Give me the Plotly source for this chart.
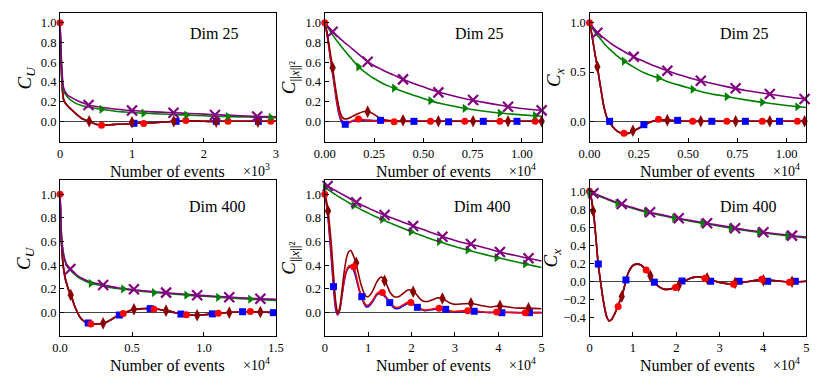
import plotly.graph_objects as go
from plotly.subplots import make_subplots

# --- panel 1: C_U, Dim 25 ---
A_X = [0, 50, 100, 200, 300, 400, 500, 600, 700, 800, 900, 1000, 1100, 1200,
       1400, 1600, 1800, 2000, 2200, 2400, 2600, 2800, 3000]
A_PURPLE = [1.0, 0.34, 0.27, 0.225, 0.19, 0.165, 0.15, 0.14, 0.13, 0.122, 0.115, 0.11,
            0.105, 0.10, 0.093, 0.087, 0.08, 0.073, 0.066, 0.06, 0.053, 0.048, 0.045]
A_GREEN = [1.0, 0.31, 0.25, 0.19, 0.16, 0.145, 0.13, 0.12, 0.11, 0.10, 0.095, 0.09,
           0.085, 0.082, 0.075, 0.068, 0.062, 0.056, 0.05, 0.047, 0.044, 0.041, 0.038]
A_FAST = [1.0, 0.22, 0.16, 0.09, 0.03, 0.0, -0.03, -0.04, -0.035, -0.03, -0.03, -0.02,
          -0.02, -0.02, -0.01, 0.0, 0.005, 0.0, 0.0, 0.0, 0.0, 0.0, 0.0]
A_PURPLE_MX = [396, 1000, 1577, 2153, 2739]
A_PURPLE_MY = [0.165, 0.11, 0.087, 0.064, 0.049]
A_GREEN_MX = [577, 1162, 1757, 2334, 2928]
A_GREEN_MY = [0.122, 0.083, 0.063, 0.048, 0.039]
A_DARKRED_MX = [405, 1000, 1580, 2170, 2750]
A_DARKRED_MY = [0.0, -0.01, 0.0, -0.003, -0.003]
A_RED_MX = [0, 577, 1162, 1748, 2334, 2928]
A_RED_MY = [1.0, -0.04, -0.022, 0.008, 0.0, 0.0]
A_BLUE_MX = [1027, 1613, 2171, 2757]
A_BLUE_MY = [-0.02, 0.0, 0.0, 0.0]

# --- panels 2 and 3: C_||x||^2 and C_x, Dim 25 ---
B_X = [0, 100, 200, 300, 400, 500, 600, 700, 800, 900, 1000, 1200, 1400, 1700, 2000,
       2200, 2500, 2800, 3200, 3600, 4000, 4500, 5000, 5500, 6000, 7000, 8000, 9000,
       10000, 11000]
B_PURPLE = [1.0, 0.98, 0.955, 0.935, 0.91, 0.89, 0.87, 0.855, 0.835, 0.82, 0.80, 0.77,
            0.735, 0.685, 0.635, 0.60, 0.565, 0.535, 0.495, 0.46, 0.425, 0.385, 0.35,
            0.315, 0.285, 0.235, 0.195, 0.16, 0.13, 0.11]
B_GREEN = [1.0, 0.97, 0.94, 0.91, 0.875, 0.85, 0.82, 0.795, 0.77, 0.745, 0.72, 0.67,
           0.625, 0.555, 0.505, 0.475, 0.435, 0.40, 0.36, 0.33, 0.30, 0.265, 0.232,
           0.20, 0.175, 0.135, 0.105, 0.082, 0.065, 0.052]
B_DARKRED = [1.0, 0.92, 0.80, 0.67, 0.544, 0.40, 0.27, 0.16, 0.08, 0.04, 0.025, 0.03,
             0.05, 0.08, 0.10, 0.10, 0.07, 0.03, 0.01, 0.003, 0.0, 0.0, 0.0, 0.0, 0.0,
             0.0, 0.0, 0.0, 0.0, 0.0]
B_RED = [1.0, 0.90, 0.77, 0.63, 0.50, 0.36, 0.22, 0.11, 0.04, 0.0, -0.02, -0.015, 0.005,
         0.022, 0.015, 0.01, 0.005, 0.0, 0.0, 0.0, 0.0, 0.0, 0.0, 0.0, 0.0, 0.0, 0.0,
         0.0, 0.0, 0.0]
B_BLUE = [1.0, 0.90, 0.77, 0.62, 0.48, 0.34, 0.20, 0.09, 0.02, -0.02, -0.03, -0.02, 0.0,
          0.01, 0.01, 0.01, 0.008, 0.01, 0.003, 0.0, 0.0, 0.0, 0.0, 0.0, 0.0, 0.0, 0.0,
          0.0, 0.0, 0.0]
B_PURPLE_MX = [400, 2176, 3970, 5763, 7522, 9296, 11000]
B_PURPLE_MY = [0.91, 0.605, 0.426, 0.294, 0.216, 0.148, 0.111]
B_GREEN_MX = [1709, 3518, 5361, 7101, 8878, 10670]
B_GREEN_MY = [0.554, 0.338, 0.209, 0.132, 0.084, 0.057]
B_DARKRED_MX = [400, 2176, 3970, 5763, 7522, 9296, 11000]
B_DARKRED_MY = [0.544, 0.098, 0.01, 0.0, 0.0, 0.0, 0.0]
B_RED_MX = [0, 1709, 3518, 5361, 7101, 8878, 10670]
B_RED_MY = [1.0, 0.023, -0.005, 0.0, 0.0, 0.0, 0.0]
B_BLUE_MX = [1039, 2829, 4523, 6281, 8040, 9749]
B_BLUE_MY = [-0.03, 0.01, 0.0, -0.005, 0.0, 0.0]

C_PURPLE = [1.0, 0.975, 0.95, 0.925, 0.90, 0.885, 0.865, 0.85, 0.835, 0.82, 0.805, 0.775,
            0.75, 0.715, 0.68, 0.66, 0.63, 0.605, 0.57, 0.54, 0.51, 0.475, 0.445, 0.418,
            0.395, 0.35, 0.31, 0.28, 0.25, 0.225]
C_GREEN = [1.0, 0.96, 0.93, 0.90, 0.87, 0.85, 0.825, 0.80, 0.775, 0.755, 0.735, 0.70,
           0.665, 0.62, 0.58, 0.555, 0.52, 0.49, 0.46, 0.433, 0.40, 0.37, 0.34, 0.31,
           0.285, 0.25, 0.215, 0.186, 0.16, 0.14]
C_FAST = [1.0, 0.90, 0.78, 0.66, 0.554, 0.42, 0.30, 0.18, 0.09, 0.03, -0.005, -0.06,
          -0.10, -0.125, -0.12, -0.10, -0.07, -0.035, 0.0, 0.015, 0.01, 0.005, 0.0, 0.0,
          0.0, 0.0, 0.0, 0.0, 0.0, 0.0]
C_PURPLE_MX = [400, 2243, 3946, 5644, 7411, 9144, 10907]
C_PURPLE_MY = [0.90, 0.655, 0.513, 0.412, 0.335, 0.277, 0.226]
C_GREEN_MX = [1749, 3500, 5232, 6965, 8762, 10545]
C_GREEN_MY = [0.611, 0.44, 0.325, 0.25, 0.193, 0.148]
C_DARKRED_MX = [396, 2200, 3946, 5644, 7411, 9144, 10907]
C_DARKRED_MY = [0.554, -0.095, 0.012, 0.0, 0.0, 0.0, 0.0]
C_RED_MX = [0, 1749, 3500, 5232, 6965, 8762, 10545]
C_RED_MY = [1.0, -0.122, 0.02, 0.0, 0.0, 0.0, 0.0]
C_BLUE_MX = [1020, 2757, 4470, 6203, 7906, 9637]
C_BLUE_MY = [0.0, -0.034, 0.01, 0.0, 0.0, 0.0]

# --- panel 4: C_U, Dim 400 ---
D_X = [0, 50, 100, 200, 300, 400, 500, 600, 700, 800, 1000, 1200, 1400, 1700, 2000,
       2400, 2800, 3200, 3600, 4000, 4500, 5000, 5500, 6000, 6500, 7000, 7500, 8000,
       8500, 9000, 9500, 10000, 11000, 12000, 13000, 14000, 15000]
D_PURPLE = [1.0, 0.80, 0.66, 0.53, 0.465, 0.425, 0.40, 0.383, 0.37, 0.358, 0.335, 0.315,
            0.298, 0.28, 0.264, 0.25, 0.24, 0.229, 0.219, 0.21, 0.202, 0.195, 0.188,
            0.182, 0.177, 0.172, 0.167, 0.162, 0.158, 0.153, 0.148, 0.144, 0.137, 0.13,
            0.123, 0.117, 0.112]
D_GREEN = [1.0, 0.79, 0.65, 0.52, 0.455, 0.415, 0.39, 0.373, 0.36, 0.348, 0.325, 0.305,
           0.288, 0.27, 0.254, 0.24, 0.23, 0.22, 0.211, 0.204, 0.197, 0.19, 0.183, 0.177,
           0.171, 0.166, 0.161, 0.156, 0.151, 0.146, 0.142, 0.138, 0.13, 0.122, 0.115,
           0.109, 0.104]
D_FAST = [1.0, 0.78, 0.60, 0.42, 0.33, 0.27, 0.23, 0.19, 0.16, 0.135, 0.06, 0.005,
          -0.04, -0.075, -0.09, -0.097, -0.093, -0.08, -0.055, -0.025, 0.0, 0.022, 0.032,
          0.035, 0.033, 0.025, 0.015, 0.0, -0.012, -0.02, -0.022, -0.018, -0.005, 0.003,
          0.008, 0.005, 0.0]
D_PURPLE_MX = [720, 2995, 5135, 7365, 9527, 11757, 13919]
D_PURPLE_MY = [0.369, 0.234, 0.197, 0.169, 0.147, 0.13, 0.118]
D_GREEN_MX = [2140, 4392, 6532, 8784, 10991, 13221]
D_GREEN_MY = [0.247, 0.2, 0.17, 0.148, 0.13, 0.114]
D_DARKRED_MX = [743, 2995, 5135, 7365, 9527, 11757, 13919]
D_DARKRED_MY = [0.149, -0.09, 0.028, 0.017, -0.022, 0.0, 0.005]
D_RED_MX = [0, 2140, 4392, 6532, 8784, 10991, 13221]
D_RED_MY = [1.0, -0.095, -0.008, 0.029, -0.017, -0.005, 0.009]
D_BLUE_MX = [1959, 4122, 6261, 8401, 10586, 12680, 14820]
D_BLUE_MY = [-0.087, -0.02, 0.034, -0.012, -0.01, 0.008, 0.0]

# --- panels 5 and 6: C_||x||^2 and C_x, Dim 400 ---
E_X = [0, 250, 500, 750, 1000, 1500, 2000, 2500, 3000, 3500, 4000, 4500, 5000, 5500,
       6000, 6500, 7000, 7500, 8000, 8500, 9000, 9500, 10000, 11000, 12000, 13000,
       14000, 15000, 16000, 17000, 18000, 19000, 20000, 21000, 22000, 23000, 24000,
       25000, 26000, 27000, 28000, 29000, 30000, 32000, 34000, 36000, 38000, 40000,
       42000, 44000, 46000, 48000, 50000]
E_PURPLE = [1.082, 1.077, 1.073, 1.068, 1.062, 1.052, 1.041, 1.031, 1.02, 1.01, 1.0,
            0.99, 0.98, 0.97, 0.958, 0.948, 0.938, 0.928, 0.919, 0.91, 0.90, 0.892,
            0.883, 0.866, 0.85, 0.835, 0.82, 0.806, 0.792, 0.778, 0.764, 0.75, 0.737,
            0.724, 0.71, 0.697, 0.684, 0.671, 0.658, 0.645, 0.633, 0.621, 0.61, 0.59,
            0.574, 0.556, 0.537, 0.516, 0.498, 0.482, 0.466, 0.451, 0.436]
E_GREEN = [1.055, 1.05, 1.044, 1.038, 1.032, 1.02, 1.008, 0.996, 0.984, 0.973, 0.962,
           0.951, 0.94, 0.929, 0.918, 0.908, 0.898, 0.888, 0.878, 0.868, 0.859, 0.85,
           0.841, 0.823, 0.806, 0.79, 0.774, 0.758, 0.743, 0.728, 0.713, 0.698, 0.683,
           0.669, 0.655, 0.642, 0.629, 0.616, 0.604, 0.592, 0.58, 0.569, 0.558, 0.537,
           0.518, 0.499, 0.481, 0.463, 0.446, 0.43, 0.413, 0.397, 0.382]
E_DARKRED = [1.0, 0.97, 0.92, 0.858, 0.78, 0.58, 0.33, 0.10, -0.005, 0.05, 0.2, 0.35,
             0.46, 0.515, 0.525, 0.49, 0.44, 0.37, 0.29, 0.22, 0.17, 0.14, 0.135, 0.18,
             0.26, 0.30, 0.26, 0.175, 0.135, 0.135, 0.16, 0.19, 0.19, 0.16, 0.115, 0.095,
             0.097, 0.112, 0.125, 0.122, 0.1, 0.08, 0.07, 0.075, 0.078, 0.06, 0.048,
             0.057, 0.05, 0.04, 0.038, 0.036, 0.033]
E_RED = [1.0, 0.96, 0.9, 0.82, 0.72, 0.50, 0.26, 0.06, -0.015, 0.04, 0.16, 0.28, 0.355,
         0.39, 0.397, 0.39, 0.35, 0.27, 0.19, 0.14, 0.09, 0.065, 0.062, 0.1, 0.16, 0.175,
         0.14, 0.09, 0.05, 0.045, 0.065, 0.085, 0.083, 0.06, 0.035, 0.022, 0.025, 0.033,
         0.038, 0.033, 0.022, 0.013, 0.01, 0.015, 0.015, 0.008, 0.003, 0.005, 0.004,
         0.001, 0.0, 0.0, 0.0]
E_BLUE = [1.0, 0.95, 0.88, 0.80, 0.69, 0.46, 0.22, 0.03, -0.02, 0.03, 0.15, 0.27, 0.345,
          0.38, 0.385, 0.37, 0.32, 0.25, 0.18, 0.135, 0.08, 0.05, 0.05, 0.09, 0.15, 0.165,
          0.13, 0.085, 0.04, 0.035, 0.055, 0.075, 0.075, 0.055, 0.03, 0.017, 0.02, 0.028,
          0.032, 0.03, 0.025, 0.012, 0.006, 0.01, 0.012, 0.005, 0.0, 0.002, 0.002, 0.0,
          0.0, 0.0, 0.0]
E_PURPLE_MX = [660, 7260, 13780, 20380, 27120, 33700, 40380, 46970]
E_PURPLE_MY = [1.07, 0.932, 0.824, 0.732, 0.641, 0.58, 0.512, 0.459]
E_GREEN_MX = [70, 6670, 13260, 19850, 26370, 32960, 39620, 46220]
E_GREEN_MY = [1.054, 0.905, 0.788, 0.684, 0.60, 0.529, 0.464, 0.411]
E_DARKRED_MX = [750, 7260, 13780, 20380, 27120, 33700, 40380, 46970]
E_DARKRED_MY = [0.858, 0.422, 0.27, 0.177, 0.12, 0.079, 0.057, 0.037]
E_RED_MX = [0, 6670, 13260, 19850, 26370, 32960, 39620, 46220]
E_RED_MY = [1.0, 0.388, 0.17, 0.085, 0.037, 0.017, 0.005, 0.0]
E_BLUE_MX = [2020, 8540, 14980, 21350, 27870, 34450, 40820, 47190]
E_BLUE_MY = [0.22, 0.135, 0.085, 0.045, 0.028, 0.012, 0.0, 0.0]

F_PURPLE = [0.995, 0.99, 0.986, 0.982, 0.977, 0.968, 0.958, 0.948, 0.938, 0.929, 0.919,
            0.909, 0.899, 0.89, 0.881, 0.872, 0.864, 0.856, 0.848, 0.84, 0.832, 0.825,
            0.818, 0.803, 0.789, 0.777, 0.765, 0.755, 0.745, 0.735, 0.724, 0.714, 0.705,
            0.696, 0.687, 0.678, 0.669, 0.661, 0.653, 0.645, 0.637, 0.629, 0.621, 0.604,
            0.587, 0.572, 0.558, 0.545, 0.533, 0.522, 0.511, 0.5, 0.49]
F_GREEN = [0.987, 0.982, 0.978, 0.974, 0.969, 0.96, 0.95, 0.94, 0.93, 0.921, 0.911, 0.901,
           0.891, 0.882, 0.873, 0.864, 0.856, 0.848, 0.84, 0.832, 0.824, 0.817, 0.81,
           0.795, 0.781, 0.769, 0.757, 0.747, 0.737, 0.727, 0.716, 0.706, 0.697, 0.688,
           0.679, 0.67, 0.661, 0.653, 0.645, 0.637, 0.629, 0.621, 0.613, 0.596, 0.579,
           0.564, 0.55, 0.537, 0.525, 0.514, 0.503, 0.492, 0.482]
F_FAST = [1.0, 0.96, 0.90, 0.81, 0.73, 0.47, 0.19, 0.01, -0.16, -0.30, -0.40, -0.44,
          -0.43, -0.39, -0.34, -0.28, -0.22, -0.16, -0.07, 0.03, 0.10, 0.145, 0.175, 0.19,
          0.175, 0.125, 0.06, -0.01, -0.06, -0.085, -0.09, -0.08, -0.06, -0.02, 0.005,
          0.028, 0.043, 0.05, 0.045, 0.033, 0.015, 0.0, -0.012, -0.028, -0.022, -0.008,
          0.008, 0.018, 0.012, 0.0, -0.008, -0.005, 0.0]
F_PURPLE_MX = [900, 7430, 13960, 20560, 27100, 33560, 40090, 46690]
F_PURPLE_MY = [0.978, 0.859, 0.766, 0.70, 0.644, 0.589, 0.544, 0.507]
F_GREEN_MX = [0, 6470, 13000, 19530, 26060, 32590, 39120, 45650]
F_GREEN_MY = [0.987, 0.864, 0.769, 0.702, 0.645, 0.591, 0.543, 0.505]
F_DARKRED_MX = [830, 7430, 14030, 20560, 27100, 33560, 40090, 46690]
F_DARKRED_MY = [0.781, -0.17, 0.06, -0.05, 0.033, -0.02, 0.01, -0.005]
F_RED_MX = [0, 6600, 13060, 19820, 26580, 33180, 39710, 46100]
F_RED_MY = [1.0, -0.28, 0.125, -0.07, 0.033, -0.033, 0.022, -0.01]
F_BLUE_MX = [2030, 8400, 14940, 21320, 27930, 34460, 41060, 47450]
F_BLUE_MY = [0.192, 0.015, -0.01, 0.003, 0.0, 0.0, 0.0, 0.0]

# --- axes / labels ---
X_TICKS_A = [0, 1000, 2000, 3000]
X_TEXT_A = ["0", "1", "2", "3"]
X_TICKS_B = [0, 2500, 5000, 7500, 10000]
X_TEXT_B = ["0.00", "0.25", "0.50", "0.75", "1.00"]
X_TICKS_D = [0, 5000, 10000, 15000]
X_TEXT_D = ["0.0", "0.5", "1.0", "1.5"]
X_TICKS_E = [0, 10000, 20000, 30000, 40000, 50000]
X_TEXT_E = ["0", "1", "2", "3", "4", "5"]
Y_TICKS = [0.0, 0.2, 0.4, 0.6, 0.8, 1.0]
Y_TICKS_C = [0.0, 0.5, 1.0]
Y_TICKS_F = [-0.4, -0.2, 0.0, 0.2, 0.4, 0.6, 0.8, 1.0]

PURPLE = "#800080"
GREEN = "#008000"
DARKRED = "#8b0000"
RED = "#ff0000"
BLUE = "#0000ff"
FONT = "Liberation Serif"

C_U = "<i>C</i><sub><i>U</i></sub>"
C_X2 = "<i>C</i><sub>||<i>x</i>||²</sub>"
C_XX = "<i>C</i><sub><i>x</i></sub>"

panels = [
    dict(x=A_X, blue=A_FAST, red=A_FAST, darkred=A_FAST, green=A_GREEN, purple=A_PURPLE,
         mk=[(A_BLUE_MX, A_BLUE_MY), (A_DARKRED_MX, A_DARKRED_MY), (A_RED_MX, A_RED_MY),
             (A_GREEN_MX, A_GREEN_MY), (A_PURPLE_MX, A_PURPLE_MY)],
         xr=[0, 3000], xt=(X_TICKS_A, X_TEXT_A), mult="×10<sup>3</sup>",
         yr=[-0.21, 1.1], yt=Y_TICKS, ylab=C_U, dim="Dim 25", dx=0.715, dy=0.84),
    dict(x=B_X, blue=B_BLUE, red=B_RED, darkred=B_DARKRED, green=B_GREEN, purple=B_PURPLE,
         mk=[(B_BLUE_MX, B_BLUE_MY), (B_DARKRED_MX, B_DARKRED_MY), (B_RED_MX, B_RED_MY),
             (B_GREEN_MX, B_GREEN_MY), (B_PURPLE_MX, B_PURPLE_MY)],
         xr=[0, 11000], xt=(X_TICKS_B, X_TEXT_B), mult="×10<sup>4</sup>",
         yr=[-0.21, 1.1], yt=Y_TICKS, ylab=C_X2, dim="Dim 25", dx=0.712, dy=0.84),
    dict(x=B_X, blue=C_FAST, red=C_FAST, darkred=C_FAST, green=C_GREEN, purple=C_PURPLE,
         mk=[(C_BLUE_MX, C_BLUE_MY), (C_DARKRED_MX, C_DARKRED_MY), (C_RED_MX, C_RED_MY),
             (C_GREEN_MX, C_GREEN_MY), (C_PURPLE_MX, C_PURPLE_MY)],
         xr=[0, 11000], xt=(X_TICKS_B, X_TEXT_B), mult="×10<sup>4</sup>",
         yr=[-0.21, 1.1], yt=Y_TICKS_C, ylab=C_XX, dim="Dim 25", dx=0.712, dy=0.84),
    dict(x=D_X, blue=D_FAST, red=D_FAST, darkred=D_FAST, green=D_GREEN, purple=D_PURPLE,
         mk=[(D_BLUE_MX, D_BLUE_MY), (D_DARKRED_MX, D_DARKRED_MY), (D_RED_MX, D_RED_MY),
             (D_GREEN_MX, D_GREEN_MY), (D_PURPLE_MX, D_PURPLE_MY)],
         xr=[0, 15000], xt=(X_TICKS_D, X_TEXT_D), mult="×10<sup>4</sup>",
         yr=[-0.197, 1.12], yt=Y_TICKS, ylab=C_U, dim="Dim 400", dx=0.729, dy=0.83),
    dict(x=E_X, blue=E_BLUE, red=E_RED, darkred=E_DARKRED, green=E_GREEN, purple=E_PURPLE,
         mk=[(E_BLUE_MX, E_BLUE_MY), (E_DARKRED_MX, E_DARKRED_MY), (E_RED_MX, E_RED_MY),
             (E_GREEN_MX, E_GREEN_MY), (E_PURPLE_MX, E_PURPLE_MY)],
         xr=[0, 50000], xt=(X_TICKS_E, X_TEXT_E), mult="×10<sup>4</sup>",
         yr=[-0.197, 1.12], yt=Y_TICKS, ylab=C_X2, dim="Dim 400", dx=0.725, dy=0.83),
    dict(x=E_X, blue=F_FAST, red=F_FAST, darkred=F_FAST, green=F_GREEN, purple=F_PURPLE,
         mk=[(F_BLUE_MX, F_BLUE_MY), (F_DARKRED_MX, F_DARKRED_MY), (F_RED_MX, F_RED_MY),
             (F_GREEN_MX, F_GREEN_MY), (F_PURPLE_MX, F_PURPLE_MY)],
         xr=[0, 50000], xt=(X_TICKS_E, X_TEXT_E), mult="×10<sup>4</sup>",
         yr=[-0.608, 1.125], yt=Y_TICKS_F, ylab=C_XX, dim="Dim 400", dx=0.73, dy=0.83),
]

# the page body adds an 8px margin, so the figure is 8px smaller and everything is
# placed 8px up/left of its position in the original 831 x 388 picture
W, H, OFF = 823, 380, 8
COL_PX = [(50, 271), (321, 543), (592, 814)]
ROW_PX = [(13, 142), (180, 336)]
COL_DOM = [[(a - OFF) / W, (b - OFF) / W] for a, b in COL_PX]
ROW_DOM = [[1 - (b - OFF) / H, 1 - (a - OFF) / H] for a, b in ROW_PX]

MARKERS = [
    dict(symbol="square", size=7, color=BLUE),
    dict(symbol="diamond-tall", size=9, color=DARKRED),
    dict(symbol="circle", size=7, color=RED),
    dict(symbol="triangle-right", size=8, color=GREEN),
    dict(symbol="x-thin", size=10, color=PURPLE, line=dict(width=2.2, color=PURPLE)),
]

fig = make_subplots(rows=2, cols=3)
annotations = []
for i, p in enumerate(panels):
    row, col = i // 3 + 1, i % 3 + 1
    for key, color in [("blue", BLUE), ("red", RED), ("darkred", DARKRED),
                       ("green", GREEN), ("purple", PURPLE)]:
        fig.add_trace(go.Scatter(
            x=p["x"], y=p[key], mode="lines",
            line=dict(color=color, width=1.6, shape="spline", smoothing=0.6),
            hoverinfo="skip"), row=row, col=col)
    for (mx, my), mstyle in zip(p["mk"], MARKERS):
        fig.add_trace(go.Scatter(x=mx, y=my, mode="markers", marker=mstyle,
                                 cliponaxis=False), row=row, col=col)

    n = "" if i == 0 else str(i + 1)
    fig.update_layout(**{
        f"xaxis{n}": dict(
            domain=COL_DOM[col - 1], range=p["xr"], tickvals=p["xt"][0],
            ticktext=p["xt"][1], ticks="inside", ticklen=4, tickwidth=1,
            tickcolor="black", showline=True, linewidth=1.3, linecolor="black",
            mirror=True, showgrid=False, zeroline=False,
            tickfont=dict(family=FONT, size=12.5, color="black")),
        f"yaxis{n}": dict(
            domain=ROW_DOM[row - 1], range=p["yr"], tickvals=p["yt"],
            tickformat=".1f", ticks="inside", ticklen=4, tickwidth=1,
            tickcolor="black", showline=True, linewidth=1.3, linecolor="black",
            mirror=True, showgrid=False, zeroline=True, zerolinecolor="#444",
            zerolinewidth=1, tickfont=dict(family=FONT, size=12.5, color="black")),
    })
    xd, yd = f"x{n} domain", f"y{n} domain"
    annotations += [
        dict(text="Number of events", xref=xd, yref=yd, x=0.5, y=0, xanchor="center",
             yanchor="top", yshift=-19, showarrow=False,
             font=dict(family=FONT, size=16, color="black")),
        dict(text=p["mult"], xref=xd, yref=yd, x=1, y=0, xanchor="right",
             yanchor="top", yshift=-17, xshift=-4, showarrow=False,
             font=dict(family=FONT, size=14, color="black")),
        dict(text=p["ylab"], xref=xd, yref=yd, x=0, y=0.5, xanchor="center",
             yanchor="middle", xshift=-35 if i != 5 else -38, textangle=-90,
             showarrow=False, font=dict(family=FONT, size=19, color="black")),
        dict(text=p["dim"], xref=xd, yref=yd, x=p["dx"], y=p["dy"], xanchor="center",
             yanchor="middle", showarrow=False,
             font=dict(family=FONT, size=16, color="black")),
    ]

fig.update_layout(
    width=W, height=H, margin=dict(l=0, r=0, t=0, b=0),
    plot_bgcolor="white", paper_bgcolor="white", showlegend=False,
    annotations=annotations,
)
fig.write_html("out.html")
